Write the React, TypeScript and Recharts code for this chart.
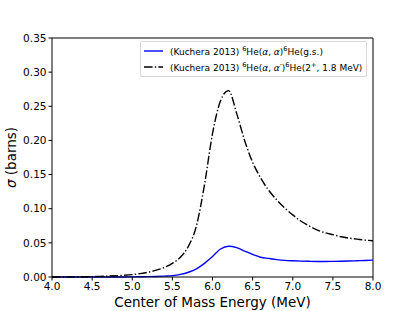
import React from "react";
import {
  LineChart,
  Line,
  XAxis,
  YAxis,
  ReferenceLine,
} from "recharts";

const energy = [
  4.0, 4.1, 4.2, 4.3, 4.4, 4.5, 4.6, 4.7, 4.8, 4.9,
  5.0, 5.1, 5.2, 5.3, 5.4, 5.5, 5.6, 5.7, 5.8, 5.9,
  6.0, 6.1, 6.2, 6.3, 6.4, 6.5, 6.6, 6.7, 6.8, 6.9,
  7.0, 7.1, 7.2, 7.3, 7.4, 7.5, 7.6, 7.7, 7.8, 7.9, 8.0,
];

// elastic, ground state
const sigmaGs = [
  0, 0, 0, 0, 0, 0, 0, 0, 0.0001, 0.0001,
  0.0002, 0.0003, 0.0005, 0.0008, 0.0013, 0.002, 0.0038, 0.007, 0.012, 0.02,
  0.03, 0.041, 0.045, 0.043, 0.038, 0.033, 0.029, 0.0272, 0.0255, 0.0243,
  0.0237, 0.0233, 0.023, 0.0228, 0.0228, 0.0229, 0.0231, 0.0234, 0.0238, 0.0242, 0.0247,
];

// inelastic, 2+ at 1.8 MeV
const sigmaEx = [
  0, 0, 0, 0.0002, 0.0004, 0.0006, 0.0009, 0.0013, 0.0018, 0.0025,
  0.0035, 0.005, 0.007, 0.01, 0.014, 0.02, 0.029, 0.045, 0.075, 0.135,
  0.21, 0.258, 0.273, 0.24, 0.2, 0.168, 0.145, 0.127, 0.113, 0.101,
  0.091, 0.082, 0.075, 0.069, 0.065, 0.062, 0.059, 0.057, 0.0555, 0.054, 0.053,
];

const xTicks = [4.0, 4.5, 5.0, 5.5, 6.0, 6.5, 7.0, 7.5, 8.0];
const yTicks = [0, 0.05, 0.1, 0.15, 0.2, 0.25, 0.3, 0.35];

const data = energy.map((e, i) => ({ e, gs: sigmaGs[i], ex: sigmaEx[i] }));

const FONT = "'DejaVu Sans', sans-serif";
const DASH = "8.6 2.2 1.4 2.2";
const SUP = 6.5;

function YLabel(props: any) {
  const vb = props.viewBox || { y: 38, height: 239 };
  const cx = 11;
  const cy = vb.y + vb.height / 2;
  return (
    <text
      x={cx}
      y={cy}
      transform={`rotate(-90 ${cx} ${cy})`}
      textAnchor="middle"
      dominantBaseline="central"
      fontFamily={FONT}
      fontSize={13.5}
      fill="#000"
    >
      <tspan fontStyle="italic">σ</tspan> (barns)
    </text>
  );
}

function XLabel(props: any) {
  const vb = props.viewBox || { x: 52, width: 321 };
  return (
    <text
      x={vb.x + vb.width / 2}
      y={306.5}
      textAnchor="middle"
      fontFamily={FONT}
      fontSize={13.5}
      fill="#000"
    >
      Center of Mass Energy (MeV)
    </text>
  );
}

function LegendBox() {
  const row = { display: "flex", alignItems: "center", height: 16 };
  return (
    <div
      style={{
        position: "absolute",
        left: 140,
        top: 41,
        border: "1px solid #d8d8d8",
        borderRadius: 2,
        background: "rgba(255,255,255,0.8)",
        padding: "1px 4px 1px 3px",
        fontFamily: FONT,
        fontSize: 9,
        lineHeight: 1,
        color: "#000",
        whiteSpace: "nowrap",
      }}
    >
      <div style={row}>
        <svg width={19} height={4} style={{ marginRight: 7 }}>
          <line x1={0} y1={2} x2={19} y2={2} stroke="#0000ff" strokeWidth={1.4} />
        </svg>
        <span>
          (Kuchera 2013) <sup style={{ fontSize: SUP }}>6</sup>He(<i>α</i>, <i>α</i>)
          <sup style={{ fontSize: SUP }}>6</sup>He(g.s.)
        </span>
      </div>
      <div style={row}>
        <svg width={19} height={4} style={{ marginRight: 7 }}>
          <line x1={0} y1={2} x2={19} y2={2} stroke="#000" strokeWidth={1.4} strokeDasharray={DASH} />
        </svg>
        <span>
          (Kuchera 2013) <sup style={{ fontSize: SUP }}>6</sup>He(<i>α</i>, <i>α′</i>)
          <sup style={{ fontSize: SUP }}>6</sup>He(2<sup style={{ fontSize: SUP }}>+</sup>, 1.8 MeV)
        </span>
      </div>
    </div>
  );
}

export default function App() {
  return (
    <div style={{ position: "absolute", left: 0, top: 0, width: 415, height: 311, background: "#fff" }}>
      <LineChart
        width={415}
        height={311}
        data={data}
        margin={{ top: 38, right: 42, left: 0, bottom: 4 }}
      >
        <XAxis
          dataKey="e"
          type="number"
          domain={[4, 8]}
          ticks={xTicks}
          allowDataOverflow
          tickFormatter={(v: number) => v.toFixed(1)}
          tick={{ fill: "#000", fontSize: 10.5, fontFamily: FONT }}
          axisLine={{ stroke: "#000", strokeWidth: 1 }}
          tickLine={{ stroke: "#000" }}
          tickSize={3.5}
          tickMargin={2}
          height={30}
          label={<XLabel />}
        />
        <YAxis
          type="number"
          domain={[0, 0.35]}
          ticks={yTicks}
          tickFormatter={(v: number) => v.toFixed(2)}
          tick={{ fill: "#000", fontSize: 10.5, fontFamily: FONT }}
          axisLine={{ stroke: "#000", strokeWidth: 1 }}
          tickLine={{ stroke: "#000" }}
          tickSize={3.5}
          tickMargin={2}
          width={52}
          label={<YLabel />}
        />
        <ReferenceLine y={0.35} stroke="#000" strokeWidth={1} />
        <ReferenceLine x={8} stroke="#000" strokeWidth={1} />
        <Line
          dataKey="gs"
          type="monotone"
          stroke="#0000ff"
          strokeWidth={1.4}
          dot={false}
          isAnimationActive={false}
        />
        <Line
          dataKey="ex"
          type="monotone"
          stroke="#000"
          strokeWidth={1.4}
          strokeDasharray={DASH}
          dot={false}
          isAnimationActive={false}
        />
      </LineChart>
      <LegendBox />
    </div>
  );
}
